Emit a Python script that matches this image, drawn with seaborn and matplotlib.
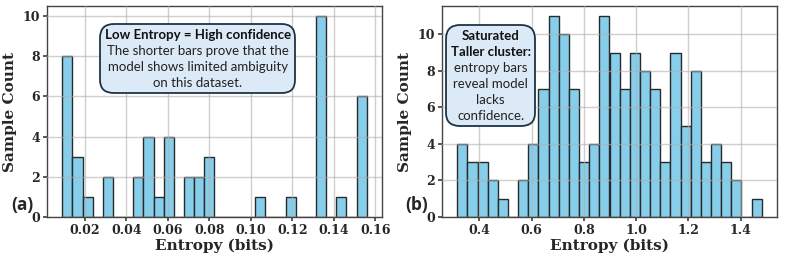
import numpy as np
import pandas as pd
import matplotlib
matplotlib.use("Agg")
import matplotlib.pyplot as plt
import seaborn as sns
from matplotlib.offsetbox import AnnotationBbox, TextArea, VPacker

# ---- data ----
bins_a = 30
range_a = (0.0091, 0.1558)
counts_a = [8, 3, 1, 0, 2, 0, 0, 2, 4, 1, 4, 0, 2, 2, 3, 0, 0, 0, 0, 1,
            0, 0, 1, 0, 0, 10, 0, 1, 0, 6]

bins_b = 30
range_b = (0.315, 1.481)
counts_b = [4, 3, 3, 2, 1, 0, 2, 4, 7, 11, 10, 7, 3, 4, 11, 9, 7, 9, 8, 7,
            3, 9, 5, 8, 3, 4, 3, 2, 0, 1]

xticks_a = [0.02, 0.04, 0.06, 0.08, 0.10, 0.12, 0.14, 0.16]
xticks_b = [0.4, 0.6, 0.8, 1.0, 1.2, 1.4]
yticks = [0, 2, 4, 6, 8, 10]

text_a_title = "Low Entropy = High confidence"
text_a_body = "The shorter bars prove that the\nmodel shows limited ambiguity\non this dataset."
text_b_title = "Saturated\nTaller cluster:"
text_b_body = "entropy bars\nreveal model\nlacks\nconfidence."

sns.set_theme(style="white")
plt.rcParams['font.family'] = ['DejaVu Serif']

fig = plt.figure(figsize=(7.93, 2.58), dpi=100)
W, H = 793, 258
ax_a = fig.add_axes([47 / W, 1 - 217 / H, 335 / W, 211 / H])
ax_b = fig.add_axes([442 / W, 1 - 217 / H, 335 / W, 211 / H])


def draw(ax, counts, nb, rng, xt, xfmt):
    edges = np.linspace(rng[0], rng[1], nb + 1)
    centers = (edges[:-1] + edges[1:]) / 2
    df = pd.DataFrame({"x": centers, "w": counts})
    sns.histplot(data=df, x="x", weights="w", bins=nb, binrange=rng, ax=ax,
                 color="#87CEEB", alpha=1.0, edgecolor="#2a2a2a", linewidth=1.0)
    ax.set_axisbelow(False)
    ax.grid(True, color="#b0b0b0", alpha=0.6, linewidth=1.0)
    for s in ax.spines.values():
        s.set_color("#444444")
        s.set_linewidth(1.0)
    ax.set_yticks(yticks)
    ax.set_xticks(xt)
    ax.set_xticklabels([xfmt.format(v) for v in xt])
    ax.tick_params(axis="both", labelsize=9, length=3, color="#444444",
                   bottom=True, left=True, pad=2)
    for lab in ax.get_xticklabels() + ax.get_yticklabels():
        lab.set_fontweight("bold")
    ax.set_xlabel("Entropy (bits)", fontsize=11, fontweight="bold", labelpad=1)
    ax.set_ylabel("Sample Count", fontsize=11, fontweight="bold", labelpad=4)


draw(ax_a, counts_a, bins_a, range_a, xticks_a, "{:.2f}")
draw(ax_b, counts_b, bins_b, range_b, xticks_b, "{:.1f}")

sans = ['Lato', 'DejaVu Sans']


def note(ax, title, body, xy):
    t1 = TextArea(title, textprops=dict(fontsize=9.5, family=sans, fontweight="bold",
                                        color="#111111", ha="center",
                                        multialignment="center", linespacing=1.4))
    t2 = TextArea(body, textprops=dict(fontsize=9.5, family=sans, color="#222222",
                                       ha="center", multialignment="center",
                                       linespacing=1.4))
    pack = VPacker(children=[t1, t2], align="center", pad=0, sep=3)
    ab = AnnotationBbox(pack, xy, xycoords="axes fraction", frameon=True,
                        box_alignment=(0.5, 0.5), pad=0.55,
                        bboxprops=dict(boxstyle="round,pad=0.3,rounding_size=0.9",
                                       facecolor="#dce9f6", edgecolor="#1c3445",
                                       linewidth=1.3))
    ax.add_artist(ab)


note(ax_a, text_a_title, text_a_body, (0.45, 0.75))
note(ax_b, text_b_title, text_b_body, (0.145, 0.67))

bold_sans = ['Open Sans', 'DejaVu Sans']
fig.text(22 / W, 1 - 205 / H, "(a)", ha="center", va="center", fontsize=12.5,
         fontweight="bold", family=bold_sans)
fig.text(417 / W, 1 - 205 / H, "(b)", ha="center", va="center", fontsize=12.5,
         fontweight="bold", family=bold_sans)

fig.savefig("out.png", dpi=100)
